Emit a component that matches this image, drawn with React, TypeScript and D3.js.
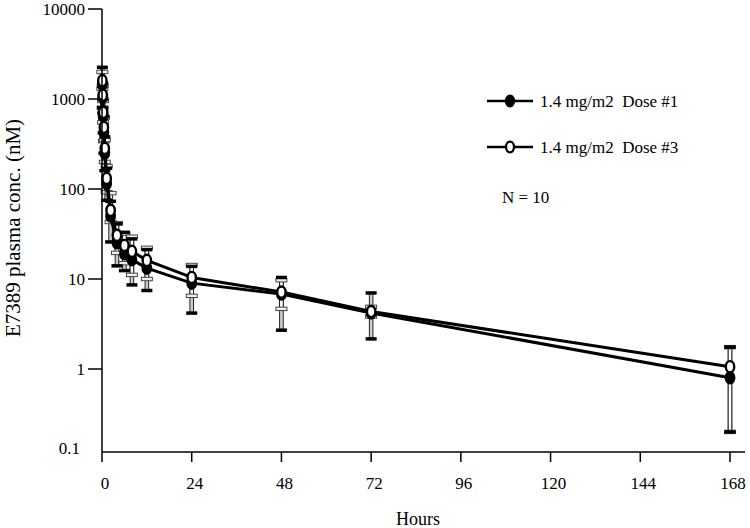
import React from "react";
import * as d3 from "d3";

const times = [0.1, 0.2, 0.3, 0.5, 0.75, 1.25, 2.3, 4, 6, 8, 12, 24, 48, 72, 168];
const dose1Mean = [1450, 1050, 650, 430, 250, 115, 50, 25.3, 19.1, 16.4, 13.2, 9.0, 6.8, 4.2, 0.8];
const dose1Upper = [2250, 1500, 1000, 640, 380, 170, 73, 41, 33, 27.9, 21.2, 13.8, 10.4, 7.0, 1.75];
const dose1Lower = [800, 700, 420, 250, 160, 75, 25.8, 14, 12.4, 8.6, 7.45, 4.18, 2.7, 2.16, 0.2];
const dose3Mean = [1600, 1100, 710, 484, 283, 131, 58, 30.6, 23.6, 20.3, 16.1, 10.4, 7.16, 4.35, 1.06];
const dose3Upper = [2000, 1400, 950, 620, 350, 180, 90, 41.7, 32, 29.5, 22.2, 14.3, 9.7, 4.9, 1.75];
const dose3Lower = [1300, 800, 550, 340, 200, 92, 43, 19.5, 15, 11.1, 10, 6.5, 4.66, 3.83, 0.2];

const xTicks = [0, 24, 48, 72, 96, 120, 144, 168];
const yTicks = [10000, 1000, 100, 10, 1];
const yTickLabels = ["10000", "1000", "100", "10", "1"];
const legendLabels = ["1.4 mg/m2  Dose #1", "1.4 mg/m2  Dose #3"];
const noteText = "N = 10";
const xTitle = "Hours";
const yTitle = "E7389 plasma conc. (nM)";

const FONT = "'Liberation Serif', 'Times New Roman', serif";

export default function App() {
  const x = d3.scaleLinear().domain([0, 168]).range([102, 730]);
  const y = d3.scaleLog().domain([0.1, 10000]).range([459, 9]);
  const axisY = 452;

  const line = d3
    .line<number>()
    .x((_, i) => x(times[i]))
    .y((d) => y(d));

  const series = [
    { mean: dose1Mean, up: dose1Upper, lo: dose1Lower, filled: true },
    { mean: dose3Mean, up: dose3Upper, lo: dose3Lower, filled: false },
  ];

  const capW = 11;
  const capH = 3.5;

  return (
    <div style={{ position: "fixed", left: 0, top: 0 }}>
      <svg width={750} height={528} style={{ display: "block", background: "#fff" }}>
        {/* error bar stems (hollow) */}
        {series.map((s, si) => (
          <g key={"st" + si}>
            {times.map((t, i) => {
              const cx = x(t);
              const yt = y(s.up[i]);
              const yb = y(s.lo[i]);
              return (
                <rect
                  key={i}
                  x={cx - 1.8}
                  y={yt}
                  width={3.6}
                  height={Math.max(0, yb - yt)}
                  fill={s.filled ? "#ccc" : "#fff"}
                  stroke="#111"
                  strokeWidth={0.9}
                />
              );
            })}
          </g>
        ))}
        {/* open caps, then filled caps */}
        {[series[1], series[0]].map((s, si) => (
          <g key={"cp" + si}>
            {times.map((t, i) => {
              const cx = x(t);
              const yt = y(s.up[i]);
              const yb = y(s.lo[i]);
              if (s.filled) {
                return (
                  <g key={i}>
                    <rect x={cx - capW / 2} y={yt - capH / 2} width={capW} height={capH} fill="#000" />
                    <rect x={cx - capW / 2} y={yb - capH / 2} width={capW} height={capH} fill="#000" />
                  </g>
                );
              }
              return (
                <g key={i}>
                  <rect x={cx - capW / 2} y={yt - capH / 2} width={capW} height={capH} fill="#eee" stroke="#333" strokeWidth={0.9} />
                  <rect x={cx - capW / 2} y={yb - capH / 2} width={capW} height={capH} fill="#eee" stroke="#333" strokeWidth={0.9} />
                </g>
              );
            })}
          </g>
        ))}

        {/* lines */}
        {series.map((s, si) => (
          <path key={"ln" + si} d={line(s.mean) || ""} fill="none" stroke="#000" strokeWidth={3} strokeLinejoin="round" />
        ))}

        {/* markers */}
        {series.map((s, si) => (
          <g key={"mk" + si}>
            {times.map((t, i) => (
              <ellipse
                key={i}
                cx={x(t)}
                cy={y(s.mean[i])}
                rx={4.2}
                ry={5.6}
                fill={s.filled ? "#000" : "#fff"}
                stroke="#000"
                strokeWidth={2.4}
              />
            ))}
          </g>
        ))}

        {/* axes */}
        <line x1={x(0)} x2={745} y1={axisY} y2={axisY} stroke="#000" strokeWidth={1.5} />
        <line x1={x(0)} x2={x(0)} y1={y(10000)} y2={axisY} stroke="#000" strokeWidth={1.5} />
        {xTicks.map((t) => (
          <g key={"xt" + t}>
            <line x1={x(t)} x2={x(t)} y1={axisY} y2={axisY + 10} stroke="#000" strokeWidth={1.5} />
            <text x={x(t) + 3} y={axisY + 37} textAnchor="middle" fontFamily={FONT} fontSize={17} fill="#000">
              {String(t)}
            </text>
          </g>
        ))}
        {yTicks.map((v, i) => (
          <g key={"yt" + v}>
            <line x1={x(0) - 14} x2={x(0)} y1={y(v)} y2={y(v)} stroke="#000" strokeWidth={1.5} />
            <text x={x(0) - 17} y={y(v) + 6} textAnchor="end" fontFamily={FONT} fontSize={17} fill="#000">
              {yTickLabels[i]}
            </text>
          </g>
        ))}
        <text x={x(0) - 22} y={y(0.1) - 5} textAnchor="end" fontFamily={FONT} fontSize={17} fill="#000">
          0.1
        </text>

        {/* titles */}
        <text x={418} y={525} textAnchor="middle" fontFamily={FONT} fontSize={18} fill="#000">
          {xTitle}
        </text>
        <text
          transform={`translate(20, 228) rotate(-90)`}
          textAnchor="middle"
          fontFamily={FONT}
          fontSize={21}
          fill="#000"
        >
          {yTitle}
        </text>

        {/* legend */}
        {legendLabels.map((lab, i) => {
          const ly = 101 + i * 46;
          return (
            <g key={"lg" + i}>
              <line x1={487} x2={533} y1={ly} y2={ly} stroke="#000" strokeWidth={2.5} />
              <ellipse cx={510} cy={ly} rx={4} ry={5.3} fill={i === 0 ? "#000" : "#fff"} stroke="#000" strokeWidth={2.3} />
              <text x={540} y={ly + 6} fontFamily={FONT} fontSize={17} fill="#000" style={{ whiteSpace: "pre" }}>
                {lab}
              </text>
            </g>
          );
        })}
        <text x={502} y={203} fontFamily={FONT} fontSize={17} fill="#000">
          {noteText}
        </text>
      </svg>
    </div>
  );
}
